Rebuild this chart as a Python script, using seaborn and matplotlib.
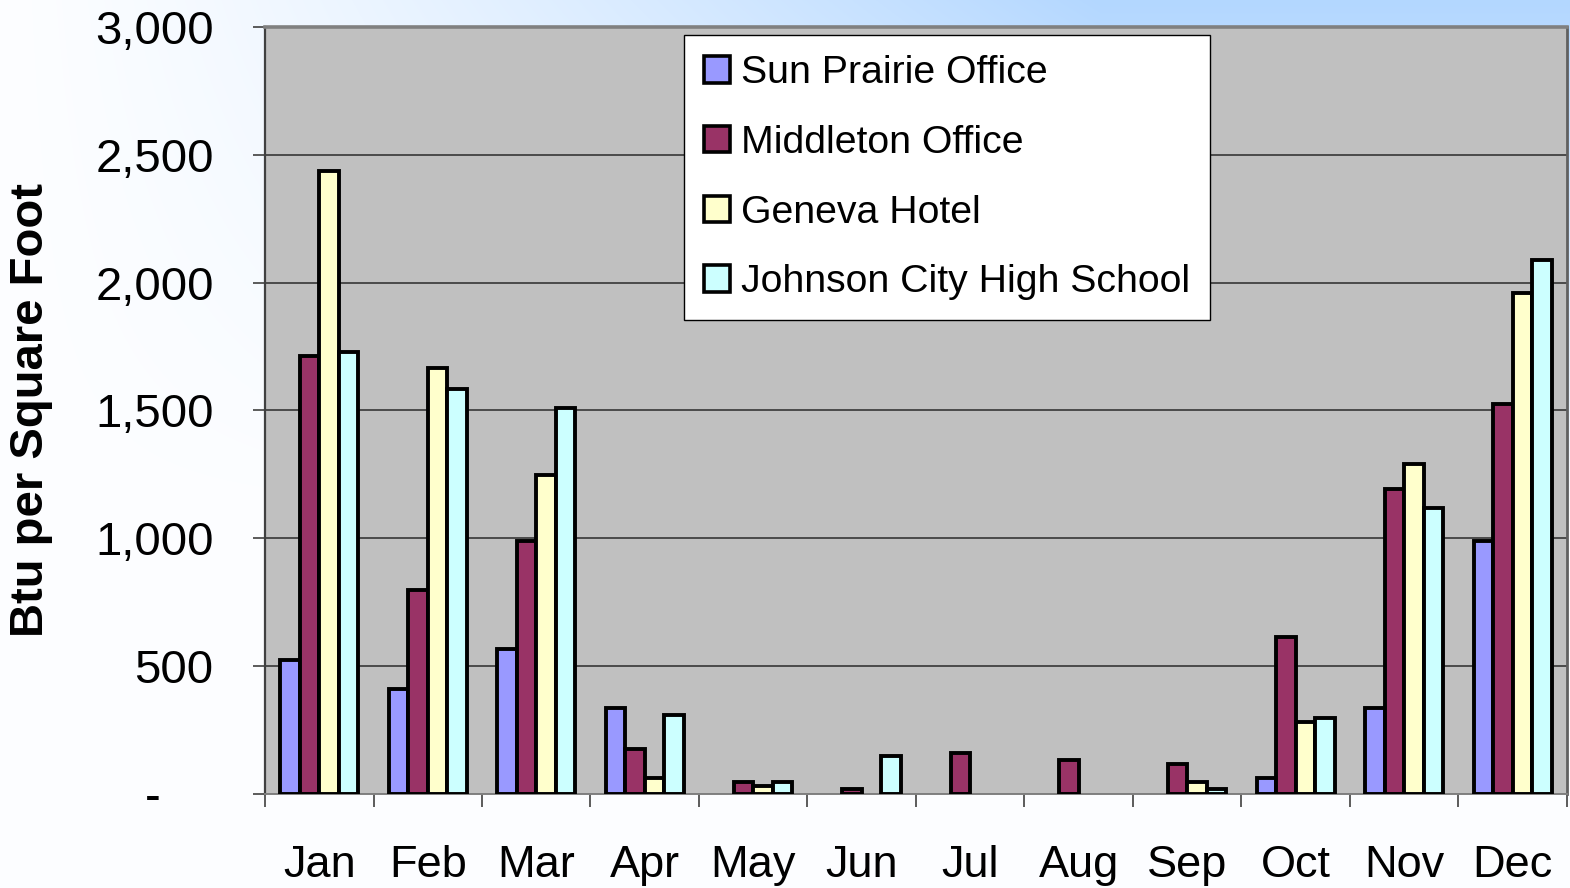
import matplotlib.pyplot as plt
import numpy as np
import pandas as pd
import seaborn as sns
from matplotlib.patches import Patch
from matplotlib.ticker import FixedLocator

# monthly energy use per building (Btu per square foot)
months = ["Jan", "Feb", "Mar", "Apr", "May", "Jun",
          "Jul", "Aug", "Sep", "Oct", "Nov", "Dec"]
buildings = ["Sun Prairie Office", "Middleton Office",
             "Geneva Hotel", "Johnson City High School"]
sun_prairie = [524, 411, 567, 336, 0, 0, 0, 0, 0, 63, 336, 990]
middleton = [1713, 798, 990, 176, 47, 20, 160, 133, 117, 614, 1193, 1525]
geneva = [2437, 1666, 1248, 63, 31, 0, 0, 0, 47, 282, 1291, 1959]
johnson = [1729, 1584, 1510, 309, 47, 149, 0, 0, 20, 297, 1119, 2088]
bar_colors = ["#9999ff", "#993366", "#ffffcc", "#ccffff"]
y_ticks = [0, 500, 1000, 1500, 2000, 2500, 3000]
y_tick_labels = ["-    ", "500", "1,000", "1,500", "2,000", "2,500", "3,000"]

df = pd.DataFrame({
    "month": months * 4,
    "building": np.repeat(buildings, len(months)),
    "btu": sun_prairie + middleton + geneva + johnson,
})
# empty months have no bar at all in the original
df = df[df["btu"] > 0]

plt.rcParams["font.family"] = ["Liberation Sans", "DejaVu Sans"]

fig = plt.figure(figsize=(15.7, 8.88), dpi=100)

# pale slide background, blue towards the top right
bg = fig.add_axes([0, 0, 1, 1], zorder=-5)
h, w = 888, 1570
yy, xx = np.mgrid[0:h, 0:w]
t = np.clip(xx / 1100, 0, 1) ** 1.3 * np.clip(1 - yy / 520, 0, 1)
t = 0.03 + 0.97 * t
white = np.array([1.0, 1.0, 1.0])
blue = np.array([0xb3, 0xd7, 0xff]) / 255
img = white[None, None, :] * (1 - t[..., None]) + blue[None, None, :] * t[..., None]
bg.imshow(img, aspect="auto", extent=[0, 1, 0, 1])
bg.axis("off")

ax = fig.add_axes([0.1688, 0.1059, 0.8292, 0.8637])
ax.set_facecolor("#c0c0c0")
sns.barplot(data=df, x="month", y="btu", hue="building", order=months,
            hue_order=buildings, palette=bar_colors, saturation=1,
            width=0.72, edgecolor="black", linewidth=2.8, errorbar=None,
            legend=False, ax=ax, zorder=3)

ax.set_xlim(-0.5, 11.5)
ax.set_ylim(0, 3000)
ax.set_yticks(y_ticks)
ax.set_yticklabels(y_tick_labels)
ax.yaxis.grid(True, color="#4a4a4a", linewidth=1.4, zorder=1)
ax.set_axisbelow(True)

# month names centred, tick marks between groups
ax.xaxis.set_minor_locator(FixedLocator(np.arange(-0.5, 12, 1)))
ax.tick_params(axis="x", which="major", length=0, pad=37, labelsize=32.5)
ax.tick_params(axis="x", which="minor", length=9, width=1.2,
               color="#404040", direction="out")
ax.tick_params(axis="y", length=9, width=1.2, color="#404040",
               direction="out", pad=28, labelsize=34)

ax.set_xlabel("")
ax.set_ylabel("Btu per Square Foot", fontsize=34, fontweight="bold")
ax.yaxis.set_label_coords(-0.163, 0.5)

ax.spines["left"].set_color("#404040")
ax.spines["left"].set_linewidth(1.6)
ax.spines["top"].set_color("#808080")
ax.spines["top"].set_linewidth(2.6)
ax.spines["right"].set_color("#606060")
ax.spines["right"].set_linewidth(2.0)
ax.spines["bottom"].set_color("#808080")
ax.spines["bottom"].set_linewidth(1.4)

handles = [Patch(facecolor=c, edgecolor="black", linewidth=2.6)
           for c in bar_colors]
leg = ax.legend(handles, buildings, loc="upper left",
                bbox_to_anchor=(0.3218, 0.989), fontsize=28.3,
                frameon=True, fancybox=False, framealpha=1,
                edgecolor="black", handlelength=0.66, handleheight=0.66,
                handletextpad=0.3, labelspacing=0.86, borderpad=0.5,
                borderaxespad=0)
leg.get_frame().set_linewidth(1.0)
leg.set_zorder(5)

fig.savefig("out.png", dpi=100)
